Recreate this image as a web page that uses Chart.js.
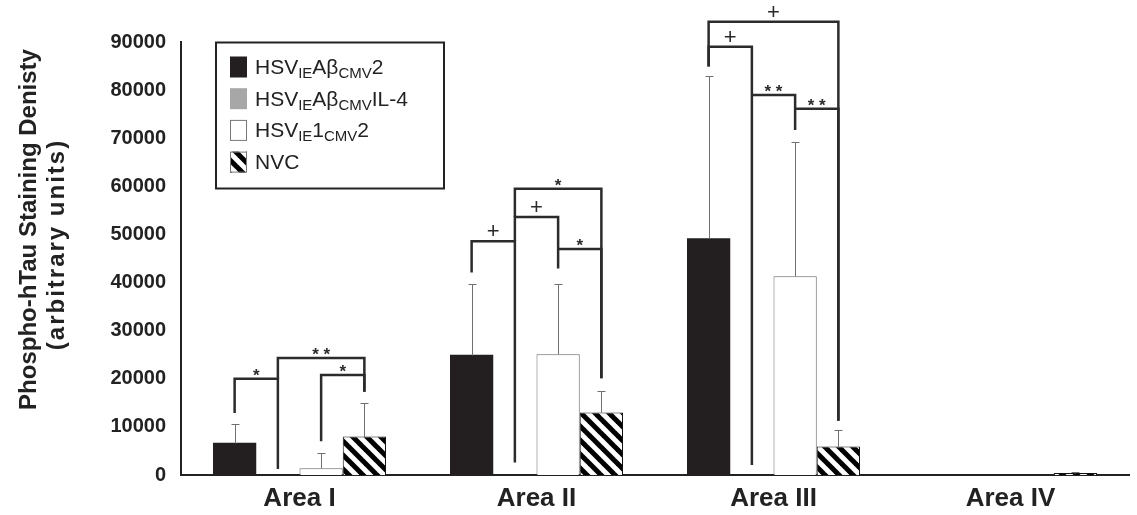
<!DOCTYPE html>
<html>
<head>
<meta charset="utf-8">
<script src="https://cdn.jsdelivr.net/npm/chart.js@4/dist/chart.umd.min.js"></script>
<style>
  html, body { margin: 0; padding: 0; background: #fff; }
  #wrap { width: 1137px; height: 515px; }
</style>
</head>
<body>
<div id="wrap"><canvas id="tauChart"></canvas></div>
<script>
// categories and series
const categories = ['Area I', 'Area II', 'Area III', 'Area IV'];
const abeta2     = [6700, 25000, 49200, 0];
const abetaIL4   = [0, 0, 0, 0];
const ie1cmv2    = [1400, 25100, 41300, 0];
const nvc        = [8000, 13000, 5900, 400];
// upper error bars (SD)
const abeta2Err   = [3900, 14600, 33800, 0];
const abetaIL4Err = [0, 0, 0, 0];
const ie1cmv2Err  = [3100, 14700, 27900, 0];
const nvcErr      = [6900, 4500, 3500, 300];
// y ticks
const yMin = 0, yMax = 90000, yStep = 10000;

// legend labels, [text, isSubscript]
const legendLabels = [
  [['HSV', 0], ['IE', 1], ['A\u03b2', 0], ['CMV', 1], ['2', 0]],
  [['HSV', 0], ['IE', 1], ['A\u03b2', 0], ['CMV', 1], ['IL-4', 0]],
  [['HSV', 0], ['IE', 1], ['1', 0], ['CMV', 1], ['2', 0]],
  [['NVC', 0]]
];

// significance brackets: [category, fromSeries, toSeries, top, leftEnd, rightEnd, mark]
const brackets = [
  [0, 0, 1, 20000, 12900, 1250, '*'],
  [0, 1, 3, 24300, 19900, 17300, '**'],
  [0, 2, 3, 20800, 7000, 17300, '*'],
  [1, 0, 1, 48600, 42100, 2600, '+'],
  [1, 1, 2, 53600, 48600, 42900, '+'],
  [1, 1, 3, 59500, 53600, 20100, '*'],
  [1, 2, 3, 47000, 47000, 20100, '*'],
  [2, 0, 3, 94200, 84900, 11300, '+'],
  [2, 0, 1, 89000, 84900, 2100, '+'],
  [2, 1, 2, 79000, 79000, 71700, '**'],
  [2, 2, 3, 76100, 76100, 11300, '**']
];

function makeHatch() {
  const c = document.createElement('canvas');
  c.width = 14; c.height = 14;
  const g = c.getContext('2d');
  g.fillStyle = '#fff';
  g.fillRect(0, 0, 14, 14);
  g.strokeStyle = '#000';
  g.lineWidth = 5;
  for (const k of [-14, 0, 14]) {
    g.beginPath();
    g.moveTo(k - 2, -2);
    g.lineTo(k + 16, 16);
    g.stroke();
  }
  return g.createPattern(c, 'repeat');
}
const hatch = makeHatch();
const swatchFill = ['#231f20', '#a7a7a7', '#ffffff', hatch];

const errorBars = {
  id: 'errorBars',
  afterDatasetsDraw(chart) {
    const ctx = chart.ctx, ys = chart.scales.y;
    ctx.save();
    ctx.strokeStyle = '#707070';
    ctx.lineWidth = 1;
    chart.data.datasets.forEach((ds, i) => {
      chart.getDatasetMeta(i).data.forEach((bar, j) => {
        const e = ds.errors[j];
        if (!e) return;
        const y0 = Math.round(ys.getPixelForValue(ds.data[j])) + 0.5;
        const y1 = Math.round(ys.getPixelForValue(ds.data[j] + e)) + 0.5;
        const x = Math.round(bar.x) + 0.5;
        ctx.beginPath();
        ctx.moveTo(x, y0); ctx.lineTo(x, y1);
        ctx.moveTo(x - 4, y1); ctx.lineTo(x + 4, y1);
        ctx.stroke();
      });
    });
    ctx.restore();
  }
};

const sigBrackets = {
  id: 'sigBrackets',
  afterDraw(chart) {
    const ctx = chart.ctx, ys = chart.scales.y;
    ctx.save();
    ctx.strokeStyle = '#2b2b2b';
    ctx.fillStyle = '#2b2b2b';
    ctx.lineWidth = 2.5;
    ctx.textAlign = 'center';
    ctx.textBaseline = 'alphabetic';
    brackets.forEach(([cat, a, b, top, lEnd, rEnd, mark]) => {
      const xa = chart.getDatasetMeta(a).data[cat].x;
      const xb = chart.getDatasetMeta(b).data[cat].x;
      const yt = ys.getPixelForValue(top);
      ctx.beginPath();
      ctx.moveTo(xa, ys.getPixelForValue(lEnd));
      ctx.lineTo(xa, yt);
      ctx.lineTo(xb, yt);
      ctx.lineTo(xb, ys.getPixelForValue(rEnd));
      ctx.stroke();
      const xm = (xa + xb) / 2;
      if (mark === '+') {
        ctx.font = '22px Arial';
        ctx.fillText(mark, xm, yt - 3);
      } else {
        ctx.font = 'bold 17px Arial';
        ctx.fillText(mark.split('').join(' '), xm, yt + 2);
      }
    });
    ctx.restore();
  }
};

const boxLegend = {
  id: 'boxLegend',
  afterDraw(chart) {
    const ctx = chart.ctx, area = chart.chartArea;
    const bx = area.left + 35, by = area.top + 0.5;
    ctx.save();
    ctx.strokeStyle = '#222';
    ctx.lineWidth = 2;
    ctx.strokeRect(bx, by, 228, 146);
    legendLabels.forEach((parts, i) => {
      const cy = by + 24 + i * 31.7;
      ctx.fillStyle = swatchFill[i];
      ctx.fillRect(bx + 14, cy - 10, 17, 21);
      if (i >= 2) {
        ctx.lineWidth = 1;
        ctx.strokeStyle = '#777';
        ctx.strokeRect(bx + 14.5, cy - 9.5, 16, 20);
      }
      ctx.fillStyle = '#222';
      ctx.textBaseline = 'alphabetic';
      ctx.textAlign = 'left';
      let x = bx + 39;
      parts.forEach(([t, sub]) => {
        ctx.font = sub ? '15px Arial' : '21px Arial';
        ctx.fillText(t, x, cy + 7.5 + (sub ? 4 : 0));
        x += ctx.measureText(t).width;
      });
    });
    ctx.restore();
  }
};

const yTitle = {
  id: 'yTitle',
  afterDraw(chart) {
    const ctx = chart.ctx, area = chart.chartArea;
    const mid = (area.top + area.bottom) / 2;
    ctx.save();
    ctx.fillStyle = '#222';
    ctx.textAlign = 'center';
    ctx.textBaseline = 'alphabetic';
    ctx.translate(36, mid - 29);
    ctx.rotate(-Math.PI / 2);
    ctx.font = 'bold 24px Arial';
    ctx.fillText('Phospho-hTau Staining Denisty', 0, 0);
    ctx.restore();
    ctx.save();
    ctx.fillStyle = '#222';
    ctx.textAlign = 'center';
    ctx.textBaseline = 'alphabetic';
    ctx.translate(64, mid - 14);
    ctx.rotate(-Math.PI / 2);
    ctx.font = 'bold 24px Arial';
    ctx.letterSpacing = '2px';
    ctx.fillText('(arbitrary units)', 0, 0);
    ctx.restore();
  }
};

new Chart(document.getElementById('tauChart'), {
  type: 'bar',
  data: {
    labels: categories,
    datasets: [
      { label: 'HSV-IE-Abeta-CMV2', data: abeta2, errors: abeta2Err,
        backgroundColor: '#231f20', borderWidth: 0 },
      { label: 'HSV-IE-Abeta-CMV-IL-4', data: abetaIL4, errors: abetaIL4Err,
        backgroundColor: '#a7a7a7', borderWidth: 0 },
      { label: 'HSV-IE1-CMV2', data: ie1cmv2, errors: ie1cmv2Err,
        backgroundColor: '#ffffff', borderColor: '#666', borderWidth: 1 },
      { label: 'NVC', data: nvc, errors: nvcErr,
        backgroundColor: hatch, borderColor: '#111', borderWidth: 1 }
    ]
  },
  options: {
    responsive: true,
    maintainAspectRatio: false,
    animation: false,
    devicePixelRatio: 1,
    layout: { padding: { top: 42, right: 8, bottom: 0, left: 0 } },
    datasets: { bar: { categoryPercentage: 0.73, barPercentage: 1.0 } },
    plugins: { legend: { display: false }, tooltip: { enabled: false } },
    scales: {
      x: {
        afterFit: (s) => { s.height = 40; },
        grid: { display: false, drawTicks: false },
        border: { display: true, color: '#222', width: 2 },
        ticks: { color: '#222', padding: 8, font: { family: 'Arial', size: 26, weight: 'bold' } }
      },
      y: {
        min: yMin, max: yMax,
        afterFit: (s) => { s.width = 181; },
        grid: { display: false, drawTicks: false },
        border: { display: true, color: '#222', width: 2 },
        ticks: { stepSize: yStep, color: '#222', padding: 15,
                 callback: (v) => String(v),
                 font: { family: 'Arial', size: 20, weight: 'bold' } }
      }
    }
  },
  plugins: [errorBars, sigBrackets, boxLegend, yTitle]
});
</script>
</body>
</html>
